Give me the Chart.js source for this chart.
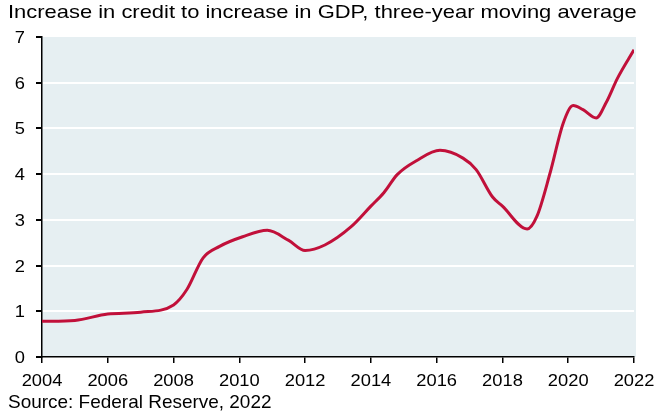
<!DOCTYPE html>
<html>
<head>
<meta charset="utf-8">
<script src="https://cdn.jsdelivr.net/npm/chart.js@4/dist/chart.umd.min.js"></script>
<style>
  html, body { margin: 0; padding: 0; background: #ffffff; }
  #wrap { width: 654px; height: 414px; position: relative; }
</style>
</head>
<body>
<div id="wrap"><canvas id="chart" width="654" height="414"></canvas></div>
<script>
// Credit growth relative to GDP growth, three-year moving average
const years = [2004, 2005, 2006, 2007, 2008, 2008.4, 2008.9, 2009.4, 2010.1, 2010.85,
               2011.5, 2012, 2012.6, 2013.4, 2014, 2014.4, 2014.8, 2015.4, 2016.1, 2016.8,
               2017.2, 2017.7, 2018.0, 2018.75, 2019.05, 2019.45, 2019.85, 2020.15, 2020.45,
               2020.85, 2021.15, 2021.5, 2022];
const ratio = [0.78, 0.80, 0.94, 0.98, 1.14, 1.47, 2.17, 2.42, 2.63, 2.77,
               2.55, 2.33, 2.45, 2.85, 3.3, 3.6, 3.99, 4.3, 4.52, 4.35,
               4.1, 3.5, 3.3, 2.8, 3.08, 4.03, 5.12, 5.5, 5.41,
               5.23, 5.56, 6.1, 6.72];
const xTicks = [2004, 2006, 2008, 2010, 2012, 2014, 2016, 2018, 2020, 2022];
const yTicks = [0, 1, 2, 3, 4, 5, 6, 7];

const titleText = 'Increase in credit to increase in GDP, three-year moving average';
const sourceText = 'Source: Federal Reserve, 2022';
const FONT = "'Liberation Sans', Arial, sans-serif";

// Draws text with a horizontal stretch factor
function stretchedText(ctx, text, x, y, font, sx, align) {
  ctx.save();
  ctx.font = font;
  ctx.textAlign = align;
  ctx.translate(x, y);
  ctx.scale(sx, 1);
  ctx.fillText(text, 0, 0);
  ctx.restore();
}

const decorations = {
  id: 'decorations',
  beforeDraw(chart) {
    const { ctx, chartArea: a } = chart;
    ctx.save();
    ctx.fillStyle = '#e6eff2';
    ctx.fillRect(a.left, a.top, a.right - a.left + 2, a.bottom - a.top);
    ctx.restore();
  },
  afterDraw(chart) {
    const ctx = chart.ctx;
    const xs = chart.scales.x, ys = chart.scales.y;
    ctx.save();
    ctx.fillStyle = '#000000';
    ctx.textBaseline = 'alphabetic';
    stretchedText(ctx, titleText, 8, 18, '17.7px ' + FONT, 1.24, 'left');
    stretchedText(ctx, sourceText, 8, 408, '18.5px ' + FONT, 1.025, 'left');
    // axis tick labels
    xTicks.forEach(v => {
      stretchedText(ctx, String(v), xs.getPixelForValue(v), 386, '17px ' + FONT, 1.077, 'center');
    });
    yTicks.forEach(v => {
      stretchedText(ctx, String(v), 25, ys.getPixelForValue(v) + 6, '17px ' + FONT, 1.077, 'right');
    });
    ctx.restore();
  }
};

new Chart(document.getElementById('chart'), {
  type: 'line',
  data: {
    datasets: [{
      data: years.map((y, i) => ({ x: y, y: ratio[i] })),
      borderColor: '#c1103a',
      borderWidth: 3,
      pointRadius: 0,
      fill: false,
      cubicInterpolationMode: 'monotone'
    }]
  },
  options: {
    responsive: false,
    animation: false,
    layout: { padding: { left: 0, right: 20, top: 37, bottom: 25 } },
    plugins: { legend: { display: false }, tooltip: { enabled: false } },
    scales: {
      x: {
        type: 'linear',
        min: 2004, max: 2022,
        afterBuildTicks(axis) { axis.ticks = xTicks.map(v => ({ value: v })); },
        afterFit(axis) { axis.height = 32; },
        ticks: { display: false },
        grid: { drawOnChartArea: false, drawTicks: true, tickLength: 6, tickColor: '#000000', lineWidth: 1.5 },
        border: { display: true, color: '#000000', width: 1.5 }
      },
      y: {
        min: 0, max: 7,
        afterBuildTicks(axis) { axis.ticks = yTicks.map(v => ({ value: v })); },
        afterFit(axis) { axis.width = 42; },
        ticks: { display: false },
        grid: {
          color: ctx => (ctx.tick && (ctx.tick.value === 0 || ctx.tick.value === 7)) ? 'rgba(0,0,0,0)' : '#ffffff',
          lineWidth: 2,
          drawTicks: true,
          tickLength: 6,
          tickColor: '#000000'
        },
        border: { display: true, color: '#000000', width: 1.5 }
      }
    }
  },
  plugins: [decorations]
});
</script>
</body>
</html>
